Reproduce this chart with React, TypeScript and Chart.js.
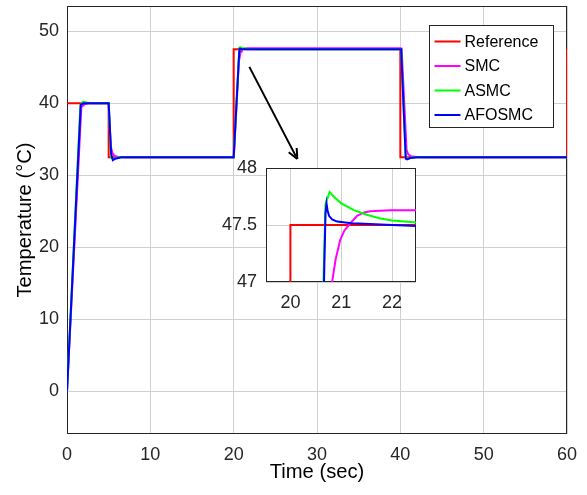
import React, { useEffect, useRef } from "react";
import { Chart, registerables } from "chart.js";

Chart.register(...registerables);

// ---------------- data ----------------
const seriesLabels = ["Reference", "SMC", "ASMC", "AFOSMC"];
const seriesColors = ["#ff0000", "#ff00ff", "#00ff00", "#0000ff"];

const refT = [0, 5, 5, 20, 20, 40, 40, 60, 60];
const refY = [40, 40, 32.5, 32.5, 47.5, 47.5, 32.5, 32.5, 47.5];

const smcT = [0, 1.72, 2.1, 2.6, 5.0, 5.25, 5.45, 5.7, 6.2, 7, 20.02, 20.62, 20.82, 20.89, 20.98, 21.06, 21.15, 21.31, 21.45, 21.57, 21.97, 22.5, 40, 40.15, 40.75, 40.95, 41.3, 42, 43, 60];
const smcY = [0, 39.5, 39.85, 40, 40, 34, 33.1, 32.7, 32.55, 32.5, 32.5, 45.8, 47, 47.2, 47.37, 47.45, 47.5, 47.58, 47.61, 47.62, 47.63, 47.63, 47.63, 47.6, 33.5, 32.9, 32.65, 32.55, 32.5, 32.5];

const asmcT = [0, 1.6, 1.9, 2.4, 3, 5.0, 5.3, 5.6, 6.2, 20, 20.65, 20.69, 20.77, 20.85, 21, 21.25, 21.5, 21.75, 22, 22.25, 22.5, 23, 25, 40, 40.1, 40.65, 40.8, 41.3, 42, 60];
const asmcY = [0, 39.7, 40.2, 40.1, 40, 40, 32.4, 32.3, 32.5, 32.5, 47, 47.68, 47.79, 47.75, 47.69, 47.63, 47.59, 47.56, 47.54, 47.53, 47.52, 47.51, 47.5, 47.5, 47.5, 32.5, 32.3, 32.45, 32.5, 32.5];

const afosmcT = [0, 1.65, 2.0, 5.0, 5.3, 5.5, 5.8, 6.5, 20.0, 20.67, 20.69, 20.71, 20.73, 20.76, 20.82, 20.92, 21.2, 21.45, 22.0, 22.5, 40.0, 40.1, 40.65, 40.8, 41.2, 42, 60];
const afosmcY = [0, 39.8, 40, 40, 33, 32.1, 32.3, 32.5, 32.5, 47.2, 47.6, 47.69, 47.63, 47.58, 47.55, 47.53, 47.515, 47.51, 47.5, 47.49, 47.49, 47.49, 32.3, 32.2, 32.4, 32.5, 32.5];

const xTicks = [0, 10, 20, 30, 40, 50, 60];
const yTicks = [0, 10, 20, 30, 40, 50];
const xRange = [0, 60];
const yRange = [-5.9, 53.5];

const insetXTicks = [20, 21, 22];
const insetYTicks = [47, 47.5, 48];
const insetXRange = [19.52, 22.47];
const insetYRange = [47, 48];

const arrowFrom = { x: 21.88, y: 45.05 };
const arrowTo = { x: 27.64, y: 32.26 };

const xTitle = "Time (sec)";
const yTitle = "Temperature (°C)";

// ---------------- helpers ----------------
const FONT = "'Liberation Sans', Arial, Helvetica, sans-serif";
const TEXT = "#262626";
const GRID = "#d0d0d0";

const toPts = (t: number[], y: number[]) => t.map((v, i) => ({ x: v, y: y[i] }));
const allSeries = [
  toPts(refT, refY),
  toPts(smcT, smcY),
  toPts(asmcT, asmcY),
  toPts(afosmcT, afosmcY),
];

function makeDatasets(width: number) {
  return allSeries.map((d, i) => ({
    label: seriesLabels[i],
    data: d,
    borderColor: seriesColors[i],
    backgroundColor: seriesColors[i],
    borderWidth: width,
    pointRadius: 0,
    tension: 0,
    fill: false,
    order: 3 - i,
  }));
}

const zeroPad = (s: any) => {
  s.paddingTop = 0;
  s.paddingBottom = 0;
  s.paddingLeft = 0;
  s.paddingRight = 0;
};

const boxPlugin = {
  id: "boxAndBg",
  beforeDraw(chart: any, _a: any, opts: any) {
    if (!opts || !opts.bg) return;
    const { ctx, chartArea: a } = chart;
    ctx.save();
    ctx.fillStyle = "#ffffff";
    ctx.fillRect(a.left, a.top, a.right - a.left, a.bottom - a.top);
    ctx.restore();
  },
  beforeDatasetsDraw(chart: any) {
    const { ctx, chartArea: a } = chart;
    ctx.save();
    ctx.strokeStyle = TEXT;
    ctx.lineWidth = 1;
    const l = Math.round(a.left) + 0.5;
    const t = Math.round(a.top) + 0.5;
    const r = Math.round(a.right) - 0.5;
    const b = Math.round(a.bottom) - 0.5;
    ctx.strokeRect(l, t, r - l, b - t);
    ctx.restore();
  },
};

const legendArrowPlugin = {
  id: "legendArrow",
  afterDraw(chart: any) {
    const { ctx, chartArea: a, scales } = chart;
    // arrow
    const x1 = scales.x.getPixelForValue(arrowFrom.x);
    const y1 = scales.y.getPixelForValue(arrowFrom.y);
    const x2 = scales.x.getPixelForValue(arrowTo.x);
    const y2 = scales.y.getPixelForValue(arrowTo.y);
    const ang = Math.atan2(y2 - y1, x2 - x1);
    ctx.save();
    ctx.strokeStyle = "#000";
    ctx.fillStyle = "#000";
    ctx.lineWidth = 2;
    ctx.beginPath();
    ctx.moveTo(x1, y1);
    ctx.lineTo(x2 - Math.cos(ang) * 3, y2 - Math.sin(ang) * 3);
    ctx.stroke();
    const hl = 11;
    const hw = 0.42;
    ctx.beginPath();
    ctx.moveTo(x2, y2);
    ctx.lineTo(x2 - hl * Math.cos(ang - hw), y2 - hl * Math.sin(ang - hw));
    ctx.moveTo(x2, y2);
    ctx.lineTo(x2 - hl * Math.cos(ang + hw), y2 - hl * Math.sin(ang + hw));
    ctx.stroke();
    ctx.restore();

    // legend
    const bx = Math.round(a.right) - 137.5;
    const by = Math.round(a.top) + 19.5;
    const bw = 124;
    const bh = 102;
    ctx.save();
    ctx.fillStyle = "#ffffff";
    ctx.fillRect(bx, by, bw, bh);
    ctx.strokeStyle = TEXT;
    ctx.lineWidth = 1;
    ctx.strokeRect(bx, by, bw, bh);
    ctx.font = `16px ${FONT}`;
    ctx.textBaseline = "middle";
    ctx.textAlign = "left";
    seriesLabels.forEach((lab, i) => {
      const ry = by + 16 + i * 24.5;
      ctx.strokeStyle = seriesColors[i];
      ctx.lineWidth = 2;
      ctx.beginPath();
      ctx.moveTo(bx + 5, ry);
      ctx.lineTo(bx + 31, ry);
      ctx.stroke();
      ctx.fillStyle = "#000";
      ctx.fillText(lab, bx + 35, ry + 1);
    });
    ctx.restore();
  },
};

const fmt = (v: any) => `${v}`;

export default function App() {
  const mainRef = useRef<HTMLCanvasElement | null>(null);
  const insetRef = useRef<HTMLCanvasElement | null>(null);

  useEffect(() => {
    document.body.style.margin = "0";
    const main = new Chart(mainRef.current as HTMLCanvasElement, {
      type: "line",
      data: { datasets: makeDatasets(2) as any },
      options: {
        animation: false,
        responsive: false,
        events: [],
        layout: { padding: { left: 0, right: 20, top: 6, bottom: 0 } },
        plugins: { legend: { display: false }, tooltip: { enabled: false } },
        scales: {
          x: {
            type: "linear",
            min: xRange[0],
            max: xRange[1],
            afterBuildTicks: (s: any) => {
              s.ticks = xTicks.map((v) => ({ value: v }));
            },
            afterFit: (s: any) => {
              s.height = 61;
              zeroPad(s);
            },
            grid: { color: GRID, lineWidth: 1, drawTicks: false },
            border: { display: false },
            ticks: { color: TEXT, font: { size: 18, family: FONT }, padding: 10, maxRotation: 0, callback: fmt },
            title: {
              display: true,
              text: xTitle,
              color: "#000",
              font: { size: 20.2, family: FONT },
              padding: { top: 0, bottom: 10.5 },
            },
          },
          y: {
            type: "linear",
            min: yRange[0],
            max: yRange[1],
            afterBuildTicks: (s: any) => {
              s.ticks = yTicks.map((v) => ({ value: v }));
            },
            afterFit: (s: any) => {
              s.width = 67;
              zeroPad(s);
            },
            grid: { color: GRID, lineWidth: 1, drawTicks: false },
            border: { display: false },
            ticks: { color: TEXT, font: { size: 18, family: FONT }, padding: 8, callback: fmt },
            title: {
              display: true,
              text: yTitle,
              color: "#000",
              font: { size: 20.2, family: FONT },
              padding: { top: 13, bottom: 0 },
            },
          },
        },
      } as any,
      plugins: [boxPlugin, legendArrowPlugin],
    });

    const inset = new Chart(insetRef.current as HTMLCanvasElement, {
      type: "line",
      data: { datasets: makeDatasets(2).map((d) => ({ ...d, clip: 0 })) as any },
      options: {
        animation: false,
        responsive: false,
        events: [],
        layout: { padding: { left: 0, right: 10, top: 12, bottom: 0 } },
        plugins: {
          legend: { display: false },
          tooltip: { enabled: false },
          boxAndBg: { bg: true },
        } as any,
        scales: {
          x: {
            type: "linear",
            min: insetXRange[0],
            max: insetXRange[1],
            afterBuildTicks: (s: any) => {
              s.ticks = insetXTicks.map((v) => ({ value: v }));
            },
            afterFit: (s: any) => {
              s.height = 36;
              zeroPad(s);
            },
            grid: { color: GRID, lineWidth: 1, drawTicks: false },
            border: { display: false },
            ticks: { color: TEXT, font: { size: 18, family: FONT }, padding: 10, maxRotation: 0, callback: fmt },
          },
          y: {
            type: "linear",
            min: insetYRange[0],
            max: insetYRange[1],
            afterBuildTicks: (s: any) => {
              s.ticks = insetYTicks.map((v) => ({ value: v }));
            },
            afterFit: (s: any) => {
              s.width = 46;
              zeroPad(s);
            },
            grid: { color: GRID, lineWidth: 1, drawTicks: false },
            border: { display: false },
            ticks: { color: TEXT, font: { size: 18, family: FONT }, padding: 9, callback: fmt },
          },
        },
      } as any,
      plugins: [boxPlugin],
    });

    return () => {
      main.destroy();
      inset.destroy();
    };
  }, []);

  return (
    <div style={{ position: "relative", width: 587, height: 495, background: "#fff" }}>
      <canvas ref={mainRef} width={587} height={495} style={{ position: "absolute", left: 0, top: 0 }} />
      <canvas ref={insetRef} width={206} height={162} style={{ position: "absolute", left: 220, top: 156 }} />
    </div>
  );
}
